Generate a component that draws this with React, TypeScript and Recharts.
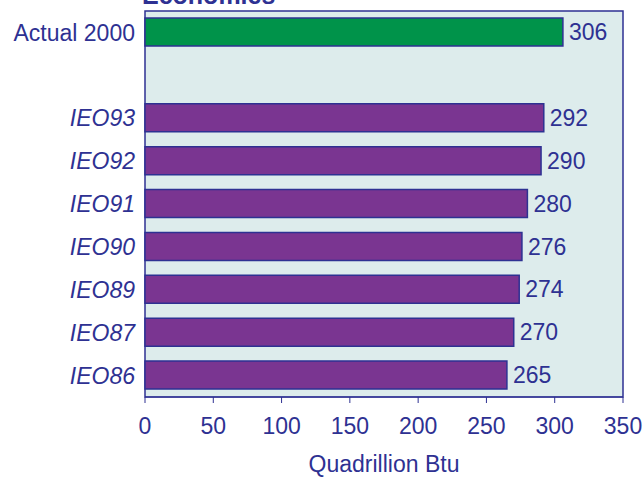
import React from 'react';
import { BarChart, Bar, XAxis, YAxis, Cell, LabelList, ReferenceArea } from 'recharts';

const categories = ['Actual 2000', '', 'IEO93', 'IEO92', 'IEO91', 'IEO90', 'IEO89', 'IEO87', 'IEO86'];
const values: (number | null)[] = [306, null, 292, 290, 280, 276, 274, 270, 265];
const xTicks = [0, 50, 100, 150, 200, 250, 300, 350];

const data = categories.map((name, i) => ({ name, value: values[i] }));

const BLUE = '#2E3192';
const GREEN = '#00934A';
const PURPLE = '#7A3591';
const BG = '#DDECEC';
const FONT = '"Liberation Sans", Arial, sans-serif';

const YTick = (props: any) => {
  const { x, y, payload } = props;
  const label: string = payload.value;
  return (
    <text
      x={x}
      y={y}
      dy="0.355em"
      textAnchor="end"
      fill={BLUE}
      fontSize={23}
      fontFamily={FONT}
      fontStyle={label.startsWith('IEO') ? 'italic' : 'normal'}
    >
      {label}
    </text>
  );
};

const App: React.FC = () => {
  return (
    <div style={{ position: 'absolute', left: 0, top: 0, width: 644, height: 477, background: '#fff' }}>
      <BarChart
        width={644}
        height={477}
        data={data}
        layout="vertical"
        margin={{ top: 11, right: 21, left: 0, bottom: 0 }}
      >
        <XAxis
          type="number"
          domain={[0, 350]}
          ticks={xTicks}
          height={80}
          stroke={BLUE}
          tickSize={6}
          tickMargin={15}
          tick={{ fill: BLUE, fontSize: 23, fontFamily: FONT }}
          label={{ value: 'Quadrillion Btu', position: 'insideBottom', offset: 5, fill: BLUE, fontSize: 23, fontFamily: FONT }}
        />
        <YAxis
          type="category"
          dataKey="name"
          width={145}
          axisLine={false}
          tickLine={false}
          tickSize={0}
          tickMargin={10}
          interval={0}
          tick={<YTick />}
        />
        <ReferenceArea x1={0} x2={350} fill={BG} fillOpacity={1} stroke={BLUE} strokeWidth={1.5} />
        <Bar dataKey="value" barSize={28} stroke={BLUE} strokeWidth={1.5} isAnimationActive={false}>
          {data.map((d, i) => (
            <Cell key={`cell-${i}`} fill={i === 0 ? GREEN : PURPLE} />
          ))}
          <LabelList
            dataKey="value"
            position="right"
            offset={6}
            fill={BLUE}
            fontSize={23}
            fontFamily={FONT}
            formatter={(v: any) => (v == null ? '' : v)}
          />
        </Bar>
      </BarChart>
      <svg width={644} height={20} style={{ position: 'absolute', left: 0, top: 0 }}>
        <text x={142} y={4} fill={BLUE} fontSize={25} fontWeight="bold" fontFamily={FONT}>
          Economies
        </text>
      </svg>
    </div>
  );
};

export default App;
